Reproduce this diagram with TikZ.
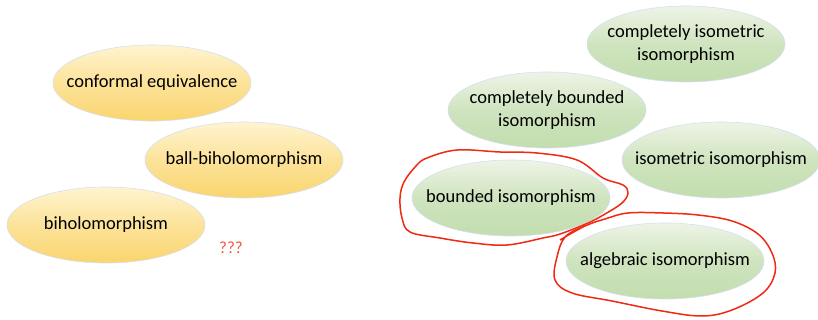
\documentclass[tikz,border=0pt]{standalone}
\usepackage{fontspec}
\setmainfont{Carlito}
\usetikzlibrary{shapes.geometric}
\definecolor{goldtop}{HTML}{FFF4D0}
\definecolor{goldbot}{HTML}{FAD56E}
\definecolor{greentop}{HTML}{EEF4E6}
\definecolor{greenbot}{HTML}{C2DDAE}
\definecolor{rim}{HTML}{D5E0EE}
\definecolor{ink}{HTML}{F02A12}
\tikzset{
  bubble/.style={ellipse, minimum width=198pt, minimum height=76pt, inner sep=0pt,
    draw=rim, line width=0.6pt},
  gold/.style={bubble, top color=goldtop, bottom color=goldbot, middle color=goldbot!55!goldtop},
  green/.style={bubble, top color=greentop, bottom color=greenbot, middle color=greenbot!70!greentop},
  caption/.style={align=center, inner sep=0pt, font=\fontsize{18.5}{23}\selectfont},
  scribble/.style={draw=ink, line width=1.5pt, line join=round}
}
\begin{document}
\begin{tikzpicture}[x=1pt, y=-1pt]
\useasboundingbox (0,0) rectangle (818,320);
\fill[white] (0,0) rectangle (818,320);

% holomorphic side
\node[gold] (conf) at (152,83) {};
\node[caption] (conf-t) at (conf) {conformal equivalence};
\node[gold] (ball) at (244,160) {};
\node[caption] (ball-t) at (ball) {ball-biholomorphism};
\node[gold] (bihol) at (106,225) {};
\node[caption] (bihol-t) at (bihol) {biholomorphism};
\node[text=ink!80, font=\fontsize{17}{20}\selectfont] (qq) at (231,248) {???};

% operator-algebra side
\node[green] (cii) at (686,44) {};
\node[caption] (cii-t) at (cii) {completely isometric\\isomorphism};
\node[green] (cbi) at (547,110) {};
\node[caption] (cbi-t) at (cbi) {completely bounded\\isomorphism};
\node[green] (iso) at (721,160) {};
\node[caption] (iso-t) at (iso) {isometric isomorphism};
\node[green] (bdd) at (511,198) {};
\node[caption] (bdd-t) at (bdd) {bounded isomorphism};
\node[green] (alg) at (665,261) {};
\node[caption] (alg-t) at (alg) {algebraic isomorphism};

% hand-drawn circles
\draw[scribble] plot[smooth cycle, tension=0.6] coordinates {
  (427,158) (457,150) (500,152) (537,153) (577,160) (603,178) (623,185)
  (628,193) (622,203) (605,214) (588,223) (560,234) (543,238) (507,245)
  (473,243) (440,238) (410,232) (402,218) (400,198) (404,182) (416,166)};
\draw[scribble] plot[smooth, tension=0.6] coordinates {
  (560,240) (585,226) (605,219) (628,213) (663,213) (698,215) (732,221)
  (758,234) (772,253) (775,273) (763,293) (732,310) (702,316) (662,311)
  (612,301) (572,293) (555,280) (557,257) (566,236) (590,224)};
\end{tikzpicture}
\end{document}
